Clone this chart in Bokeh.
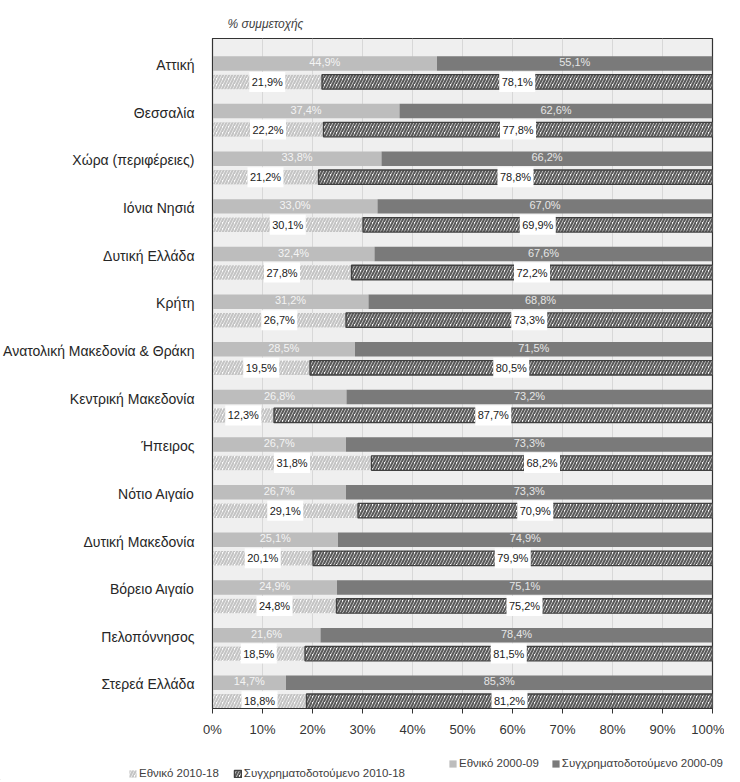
from bokeh.plotting import figure
from bokeh.layouts import column
from bokeh.models import (Range1d, FixedTicker, PrintfTickFormatter, Legend, LegendItem,
                          ColumnDataSource, CDSView, IndexFilter)
from bokeh.core.properties import value
from bokeh.embed import file_html
from bokeh.resources import INLINE

regions = ["Αττική", "Θεσσαλία", "Χώρα (περιφέρειες)", "Ιόνια Νησιά", "Δυτική Ελλάδα",
           "Κρήτη", "Ανατολική Μακεδονία & Θράκη", "Κεντρική Μακεδονία", "Ήπειρος",
           "Νότιο Αιγαίο", "Δυτική Μακεδονία", "Βόρειο Αιγαίο", "Πελοπόννησος",
           "Στερεά Ελλάδα"]
national_0009 = [44.9, 37.4, 33.8, 33.0, 32.4, 31.2, 28.5, 26.8, 26.7, 26.7, 25.1, 24.9, 21.6, 14.7]
cofin_0009 = [55.1, 62.6, 66.2, 67.0, 67.6, 68.8, 71.5, 73.2, 73.3, 73.3, 74.9, 75.1, 78.4, 85.3]
national_1018 = [21.9, 22.2, 21.2, 30.1, 27.8, 26.7, 19.5, 12.3, 31.8, 29.1, 20.1, 24.8, 18.5, 18.8]
cofin_1018 = [78.1, 77.8, 78.8, 69.9, 72.2, 73.3, 80.5, 87.7, 68.2, 70.9, 79.9, 75.2, 81.5, 81.2]
x_ticks = list(range(0, 101, 10))
series_names = ["Εθνικό 2000-09", "Συγχρηματοδοτούμενο 2000-09",
                "Εθνικό 2010-18", "Συγχρηματοδοτούμενο 2010-18"]

FNAME = "Liberation Sans"
FONT = value(FNAME)
N = len(regions)
idx = list(range(N))
OFF_SOLID = -0.036
OFF_HATCH = 0.352
BAR_H = 0.304

STY_N_OLD = dict(fill_color="#bdbdbd", line_color=None)
STY_C_OLD = dict(fill_color="#7a7a7a", line_color=None)
STY_N_NEW = dict(fill_color="white", line_color=None, hatch_pattern="/",
                 hatch_color="#c4c4c4", hatch_scale=6, hatch_weight=2.2)
STY_C_NEW = dict(fill_color="white", line_color="#404040", line_width=1.3,
                 hatch_pattern="/", hatch_color="#5a5a5a", hatch_scale=6, hatch_weight=2.2)


def fmt(v):
    return ("%.1f" % v).replace(".", ",") + "%"


y_solid = [i + OFF_SOLID for i in idx]
y_hatch = [i + OFF_HATCH for i in idx]

src_old = ColumnDataSource(dict(
    y=y_solid, n=national_0009, c=cofin_0009,
    tot=[a + b for a, b in zip(national_0009, cofin_0009)],
    nx=[a / 2 for a in national_0009],
    cx=[a + b / 2 for a, b in zip(national_0009, cofin_0009)],
    nl=[fmt(v) for v in national_0009], cl=[fmt(v) for v in cofin_0009],
    ty=[y - 0.03 for y in y_solid]))
src_new = ColumnDataSource(dict(
    y=y_hatch, n=national_1018, c=cofin_1018,
    tot=[a + b for a, b in zip(national_1018, cofin_1018)],
    nx=[a / 2 for a in national_1018],
    cx=[a + b / 2 for a, b in zip(national_1018, cofin_1018)],
    nl=[fmt(v) for v in national_1018], cl=[fmt(v) for v in cofin_1018]))

p = figure(width=724, height=744, output_backend="svg", toolbar_location=None,
           x_range=Range1d(0, 100), y_range=Range1d(N - 0.496, -0.56),
           min_border_left=205, min_border_right=12, min_border_top=38,
           min_border_bottom=36)
p.background_fill_color = "#efefef"
p.border_fill_color = "white"
p.outline_line_color = "#333333"
p.outline_line_width = 1.2

p.hbar(y="y", left=0, right="n", height=BAR_H, source=src_old, **STY_N_OLD)
p.hbar(y="y", left="n", right="tot", height=BAR_H, source=src_old, **STY_C_OLD)
p.hbar(y="y", left=0, right="n", height=BAR_H, source=src_new, **STY_N_NEW)
p.hbar(y="y", left="n", right="tot", height=BAR_H, source=src_new, **STY_C_NEW)

# labels on solid bars
p.text(x="nx", y="ty", text="nl", source=src_old, text_align="center",
       text_baseline="middle", text_font=FONT, text_font_size="11px",
       text_color="#f4f4f4")
p.text(x="cx", y="ty", text="cl", source=src_old, text_align="center",
       text_baseline="middle", text_font=FONT, text_font_size="11px",
       text_color="#e6e6e6")

# boxed labels on hatched bars
for col, lab in (("nx", "nl"), ("cx", "cl")):
    p.rect(x=col, y="y", width=36, height=20, width_units="screen",
           height_units="screen", source=src_new, fill_color="white", line_color=None)
    p.text(x=col, y="y", text=lab, source=src_new, text_align="center",
           text_baseline="middle", text_font=FONT, text_font_size="11px",
           text_color="#1a1a1a")

# axes
p.xaxis.ticker = FixedTicker(ticks=x_ticks)
p.xaxis.formatter = PrintfTickFormatter(format="%d%%")
p.xaxis.major_label_text_font = FNAME
p.xaxis.major_label_text_font_size = "13px"
p.xaxis.major_label_text_color = "#333333"
p.xaxis.axis_line_color = "#333333"
p.xaxis.major_tick_line_color = "#333333"
p.xaxis.major_tick_out = 5
p.xaxis.major_tick_in = 0
p.xaxis.minor_tick_line_color = None
p.xaxis.major_label_standoff = 8

p.yaxis.ticker = FixedTicker(ticks=idx)
p.yaxis.major_label_overrides = {i: name for i, name in enumerate(regions)}
p.yaxis.major_label_text_font = FNAME
p.yaxis.major_label_text_font_size = "14px"
p.yaxis.major_label_text_color = "#262626"
p.yaxis.axis_line_color = "#333333"
p.yaxis.major_tick_line_color = None
p.yaxis.minor_tick_line_color = None
p.yaxis.major_label_standoff = 12

p.xgrid.grid_line_color = "#d8d8d8"
p.xgrid.ticker = FixedTicker(ticks=x_ticks)
p.ygrid.grid_line_color = None

p.title.text = "% συμμετοχής"
p.title.text_font = FNAME
p.title.text_font_style = "italic"
p.title.text_font_size = "12px"
p.title.text_color = "#404040"
p.title.offset = 15
p.title.standoff = 15

# legend strip below the chart; its ranges keep its single shown row out of view
q = figure(width=724, height=36, output_backend="svg", toolbar_location=None,
           x_range=Range1d(1000, 1100), y_range=Range1d(20, 21),
           min_border_left=0, min_border_right=0, min_border_top=0, min_border_bottom=0)
q.frame_align = False
q.axis.visible = False
q.grid.grid_line_color = None
q.outline_line_color = None
q.background_fill_color = None
q.border_fill_color = None
one_row = CDSView(filter=IndexFilter(indices=[0]))
g_n_old = q.hbar(y="y", left=0, right="n", height=BAR_H, source=src_old, view=one_row, **STY_N_OLD)
g_c_old = q.hbar(y="y", left="n", right="tot", height=BAR_H, source=src_old, view=one_row, **STY_C_OLD)
g_n_new = q.hbar(y="y", left=0, right="n", height=BAR_H, source=src_new, view=one_row, **STY_N_NEW)
g_c_new = q.hbar(y="y", left="n", right="tot", height=BAR_H, source=src_new, view=one_row, **STY_C_NEW)

leg2 = Legend(items=[LegendItem(label=series_names[0], renderers=[g_n_old]),
                     LegendItem(label=series_names[1], renderers=[g_c_old])],
              orientation="horizontal", location=(448, 11), spacing=12)
leg1 = Legend(items=[LegendItem(label=series_names[2], renderers=[g_n_new]),
                     LegendItem(label=series_names[3], renderers=[g_c_new])],
              orientation="horizontal", location=(128, 1), spacing=14)
for lg in (leg2, leg1):
    lg.padding = 0
    lg.margin = 0
    lg.glyph_width = 9
    lg.glyph_height = 9
    lg.label_standoff = 2
    lg.label_text_font = FNAME
    lg.label_text_font_size = "11.5px"
    lg.label_text_color = "#404040"
    lg.label_height = 12
    lg.border_line_color = None
    lg.background_fill_alpha = 0
    q.add_layout(lg, "center")

layout = column(p, q, spacing=0)
open("out.html", "w").write(file_html(layout, INLINE))
